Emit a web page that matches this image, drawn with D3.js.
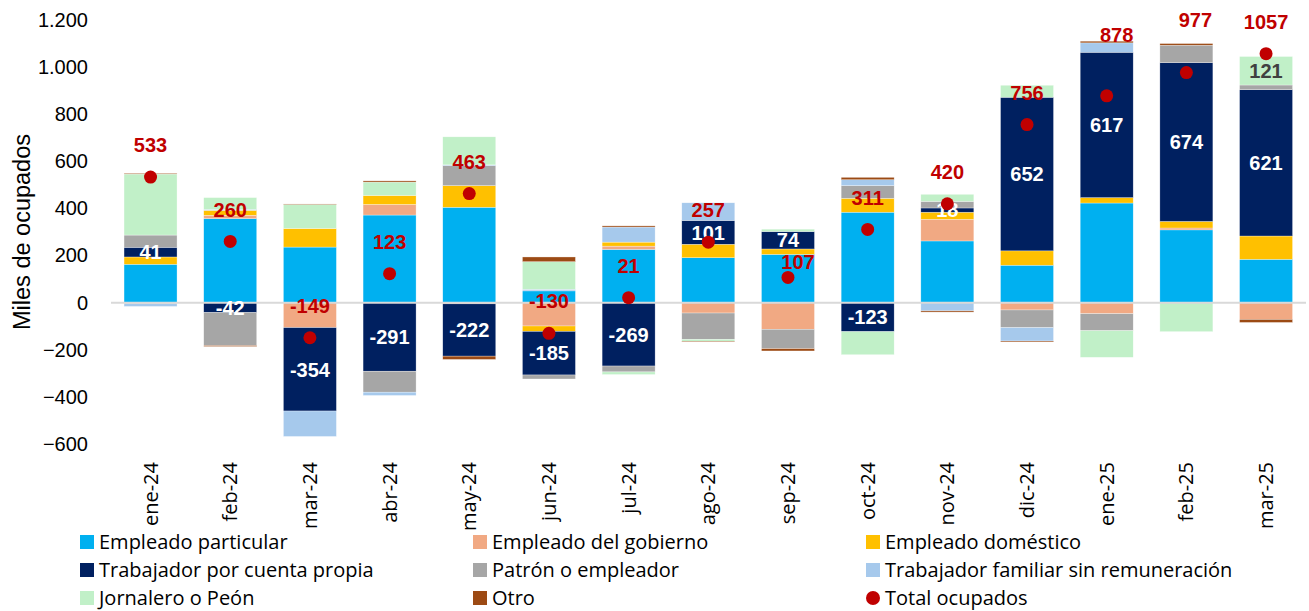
<!DOCTYPE html>
<meta charset="utf-8">
<style>
body { margin: 0; background: #fff; }
text { font-family: "Liberation Sans", Arial, sans-serif; }
.xaxis text, .legend text { font-family: "Open Sans", Roboto, sans-serif; }
</style>
<svg width="1309" height="611"></svg>
<script src="https://d3js.org/d3.v7.min.js"></script>
<script>

var months = ["ene-24","feb-24","mar-24","abr-24","may-24","jun-24","jul-24","ago-24","sep-24","oct-24","nov-24","dic-24","ene-25","feb-25","mar-25"];

var particular   = [163, 357, 236, 372, 405,  50, 226, 191, 205, 384, 262, 159, 423, 309, 184];
var gobierno     = [ -4,  14,-106,  45,  -5, -99,  14, -44,-113,   0,  92, -31, -47,   8, -71];
var domestico    = [ 31,  21,  79,  38,  92, -23,  17,  57,  23,  59,  30,  61,  23,  28,  99];
var cuentaPropia = [ 41, -42,-354,-291,-222,-185,-269, 101,  74,-123,  18, 652, 617, 674, 621];
var patron       = [ 52,-140,   0, -89,  85, -17, -25,-112, -82,  54,  28, -75, -72,  74,  20];
var familiar     = [-12,   4,-108, -14,   3,   7,  64,  75,   0,  25, -35, -57,  40,   0,   0];
var jornalero    = [259,  50, 102,  57, 119, 117, -11,  -8,  10, -98,  30,  51,-113,-123, 121];
var otro         = [  3,  -4,   2,   5, -14,  20,   5,  -3, -10,  10,  -5,  -4,   7,   7, -13];
var total        = [533, 260,-149, 123, 463,-130,  21, 257, 107, 311, 420, 756, 878, 977,1057];

var yTicks = [-600, -400, -200, 0, 200, 400, 600, 800, 1000, 1200];

var seriesNames = ["Empleado particular","Empleado del gobierno","Empleado doméstico",
                   "Trabajador por cuenta propia","Patrón o empleador","Trabajador familiar sin remuneración",
                   "Jornalero o Peón","Otro"];
var seriesValues = [particular, gobierno, domestico, cuentaPropia, patron, familiar, jornalero, otro];
var colors = ["#00B0F0","#F1A983","#FFC000","#002060","#A6A6A6","#A6C9EC","#C1F0C8","#9C4A14"];
var totalColor = "#C00000";

// hand-moved total labels (as in the original chart)
var labelNudge = {"sep-24": [10, 16], "ene-25": [10, -29], "feb-25": [9, -21]};

var svg = d3.select("svg");

var rows = months.map(function(m, i) {
  var r = {month: m};
  seriesNames.forEach(function(s, j) { r[s] = seriesValues[j][i]; });
  return r;
});

var x = d3.scaleBand()
  .domain(months)
  .range([110.7, 1305.9])
  .paddingInner(0.335)
  .paddingOuter(0.1675);

var y = d3.scaleLinear()
  .domain([-600, 1200])
  .range([444, 20]);

var fmt = d3.formatLocale({decimal: ",", thousands: ".", grouping: [3], currency: ["", ""]}).format(",d");

// y axis (labels only)
var yAxis = svg.append("g")
  .attr("transform", "translate(88,0)")
  .call(d3.axisLeft(y).tickValues(yTicks).tickFormat(fmt).tickSize(0).tickPadding(0));
yAxis.select(".domain").remove();
yAxis.selectAll("text")
  .style("font-family", "'Liberation Sans', Arial, sans-serif")
  .attr("font-size", 20)
  .attr("fill", "#000");

svg.append("text")
  .attr("transform", "translate(30,232) rotate(-90)")
  .attr("text-anchor", "middle")
  .attr("font-size", 23.5)
  .attr("fill", "#000")
  .text("Miles de ocupados");

var stack = d3.stack()
  .keys(seriesNames)
  .offset(d3.stackOffsetDiverging);
var layers = stack(rows);

svg.append("g").selectAll("g")
  .data(layers)
  .enter().append("g")
  .attr("fill", function(d, i) { return colors[i]; })
  .selectAll("rect")
  .data(function(d) { return d; })
  .enter().append("rect")
  .attr("x", function(d) { return x(d.data.month); })
  .attr("width", x.bandwidth())
  .attr("y", function(d) { return y(Math.max(d[0], d[1])); })
  .attr("height", function(d) { return Math.abs(y(d[0]) - y(d[1])); })
  .attr("stroke", "#fff")
  .attr("stroke-width", 0.5)
  .attr("stroke-opacity", 0.6);

// zero line
svg.append("line")
  .attr("x1", 111).attr("x2", 1306)
  .attr("y1", y(0)).attr("y2", y(0))
  .attr("stroke", "#D9D9D9")
  .attr("stroke-width", 2);

// x axis labels
var xAxis = svg.append("g")
  .attr("class", "xaxis")
  .attr("transform", "translate(0,462)")
  .call(d3.axisBottom(x).tickSize(0).tickPadding(0));
xAxis.select(".domain").remove();
xAxis.selectAll("text")
  .attr("transform", "rotate(-90)")
  .attr("text-anchor", "end")
  .attr("x", 0)
  .attr("y", 0)
  .attr("dy", "0.35em")
  .attr("font-size", 20)
  .attr("fill", "#000");

// cuenta propia labels
var cpLayer = layers[3];
svg.append("g").selectAll("text")
  .data(cpLayer)
  .enter().append("text")
  .attr("x", function(d) { return x(d.data.month) + x.bandwidth() / 2; })
  .attr("y", function(d) { return (y(d[0]) + y(d[1])) / 2; })
  .attr("dy", "0.36em")
  .attr("text-anchor", "middle")
  .attr("font-size", 20)
  .attr("font-weight", "bold")
  .attr("fill", "#fff")
  .text(function(d) { return d.data["Trabajador por cuenta propia"]; });

// jornalero label (only shown for last month)
var jLast = layers[6][months.length - 1];
svg.append("text")
  .attr("x", x(jLast.data.month) + x.bandwidth() / 2)
  .attr("y", (y(jLast[0]) + y(jLast[1])) / 2)
  .attr("dy", "0.36em")
  .attr("text-anchor", "middle")
  .attr("font-size", 20)
  .attr("font-weight", "bold")
  .attr("fill", "#404040")
  .text(jLast.data["Jornalero o Peón"]);

// total dots and labels
var dots = svg.append("g");
dots.selectAll("circle")
  .data(total)
  .enter().append("circle")
  .attr("cx", function(d, i) { return x(months[i]) + x.bandwidth() / 2; })
  .attr("cy", function(d) { return y(d); })
  .attr("r", 6.5)
  .attr("fill", totalColor);

dots.selectAll("text")
  .data(total)
  .enter().append("text")
  .attr("x", function(d, i) {
    var n = labelNudge[months[i]];
    return x(months[i]) + x.bandwidth() / 2 + (n ? n[0] : 0);
  })
  .attr("y", function(d, i) {
    var n = labelNudge[months[i]];
    return y(d) - 32 + (n ? n[1] : 0);
  })
  .attr("dy", "0.36em")
  .attr("text-anchor", "middle")
  .attr("font-size", 20)
  .attr("font-weight", "bold")
  .attr("fill", totalColor)
  .text(function(d) { return d; });

// legend
var legendItems = seriesNames.concat(["Total ocupados"]);
var legendCols = [80, 473, 866];
var legendRows = [542, 570, 598];

var legend = svg.append("g").attr("class", "legend");
var li = legend.selectAll("g")
  .data(legendItems)
  .enter().append("g")
  .attr("transform", function(d, i) {
    return "translate(" + legendCols[i % 3] + "," + legendRows[Math.floor(i / 3)] + ")";
  });

li.each(function(d, i) {
  var g = d3.select(this);
  if (i < seriesNames.length) {
    g.append("rect")
      .attr("x", 0).attr("y", -7)
      .attr("width", 14).attr("height", 14)
      .attr("fill", colors[i]);
  } else {
    g.append("circle")
      .attr("cx", 7).attr("cy", 0)
      .attr("r", 7)
      .attr("fill", totalColor);
  }
  g.append("text")
    .attr("x", 19)
    .attr("y", 0)
    .attr("dy", "0.35em")
    .attr("font-size", 20)
    .attr("fill", "#000")
    .text(d);
});

</script>
